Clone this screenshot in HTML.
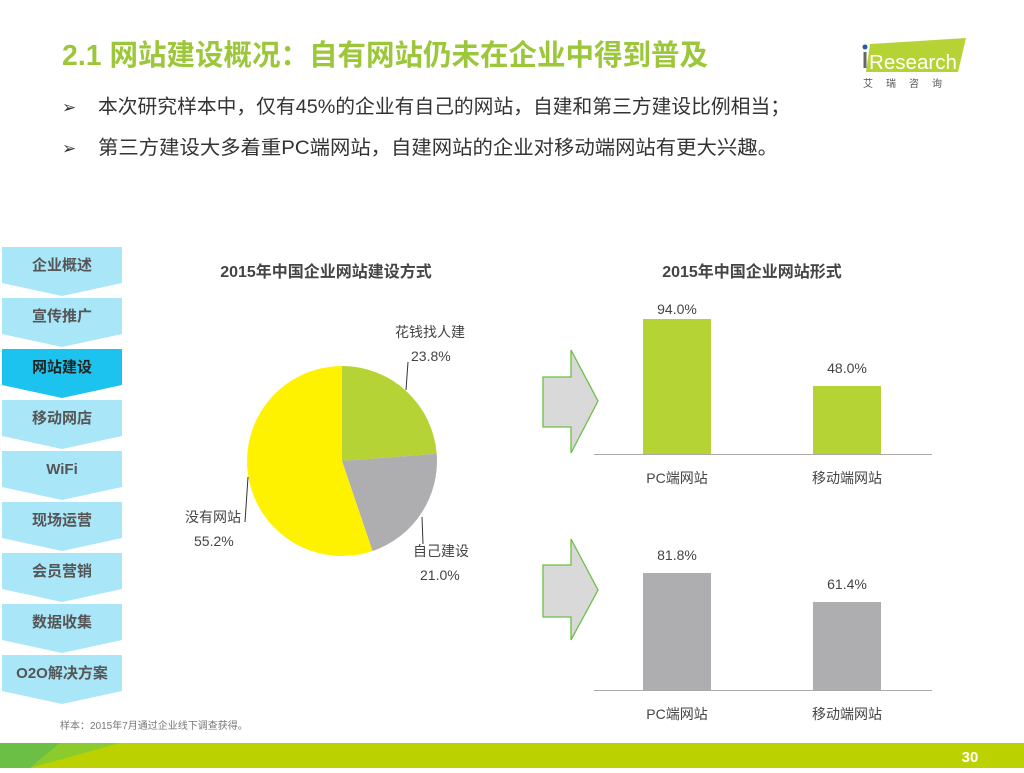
<!DOCTYPE html>
<html><head><meta charset="utf-8"><style>
body{margin:0;width:1024px;height:768px;overflow:hidden;background:#fff;font-family:"Liberation Sans","Noto Sans CJK SC",sans-serif;}
</style></head><body>
<svg width="1024" height="768" viewBox="0 0 1024 768" xmlns="http://www.w3.org/2000/svg" font-family="Liberation Sans, Noto Sans CJK SC, sans-serif">
<text x="62" y="65" font-size="29" font-weight="bold" fill="#9dc73a" textLength="646" lengthAdjust="spacingAndGlyphs">2.1 网站建设概况：自有网站仍未在企业中得到普及</text>
<text x="62" y="113" font-size="17" fill="#333">➢</text>
<text x="98" y="113" font-size="19.5" fill="#333" textLength="692" lengthAdjust="spacingAndGlyphs">本次研究样本中，仅有45%的企业有自己的网站，自建和第三方建设比例相当；</text>
<text x="62" y="154" font-size="17" fill="#333">➢</text>
<text x="98" y="154" font-size="19.5" fill="#333" textLength="680" lengthAdjust="spacingAndGlyphs">第三方建设大多着重PC端网站，自建网站的企业对移动端网站有更大兴趣。</text>
<!-- logo -->
<polygon points="870,44 966,38 958,72 866,72" fill="#b5d334"/>
<circle cx="865" cy="47" r="2.5" fill="#1f5fa8"/>
<rect x="863.5" y="52" width="3" height="16" fill="#666"/>
<text x="869" y="69" font-size="20" fill="#fff" textLength="88" lengthAdjust="spacingAndGlyphs">Research</text>
<text x="863" y="87" font-size="10" fill="#555" letter-spacing="13">艾瑞咨询</text>
<!-- side nav -->
<g font-size="15" font-weight="bold" fill="#555" text-anchor="middle">
<polygon points="2,247 122,247 122,283 62,296 2,283" fill="#a8e6f8"/><text x="62" y="270">企业概述</text>
<polygon points="2,298 122,298 122,334 62,347 2,334" fill="#a8e6f8"/><text x="62" y="321">宣传推广</text>
<polygon points="2,349 122,349 122,385 62,398 2,385" fill="#1bc3ee"/><text x="62" y="372" fill="#222">网站建设</text>
<polygon points="2,400 122,400 122,436 62,449 2,436" fill="#a8e6f8"/><text x="62" y="423">移动网店</text>
<polygon points="2,451 122,451 122,487 62,500 2,487" fill="#a8e6f8"/><text x="62" y="474">WiFi</text>
<polygon points="2,502 122,502 122,538 62,551 2,538" fill="#a8e6f8"/><text x="62" y="525">现场运营</text>
<polygon points="2,553 122,553 122,589 62,602 2,589" fill="#a8e6f8"/><text x="62" y="576">会员营销</text>
<polygon points="2,604 122,604 122,640 62,653 2,640" fill="#a8e6f8"/><text x="62" y="627">数据收集</text>
<polygon points="2,655 122,655 122,691 62,704 2,691" fill="#a8e6f8"/><text x="62" y="678">O2O解决方案</text>
</g>
<!-- pie -->
<text x="326" y="277" font-size="16" font-weight="bold" fill="#444" text-anchor="middle">2015年中国企业网站建设方式</text>
<path d="M342,461 L342,366 A95,95 0 0,1 436.7,453.8 Z" fill="#b5d334"/>
<path d="M342,461 L436.7,453.8 A95,95 0 0,1 372.5,551 Z" fill="#aeadb0"/>
<path d="M342,461 L372.5,551 A95,95 0 1,1 342,366 Z" fill="#fff200"/>
<polyline points="408,362 406,390" stroke="#333" fill="none"/>
<polyline points="248,477 245,522" stroke="#333" fill="none"/>
<polyline points="422,517 423,544" stroke="#333" fill="none"/>
<g font-size="14" fill="#444">
<text x="395" y="337">花钱找人建</text><text x="411" y="361">23.8%</text>
<text x="185" y="522">没有网站</text><text x="194" y="546">55.2%</text>
<text x="413" y="556">自己建设</text><text x="420" y="580">21.0%</text>
</g>
<!-- arrows -->
<polygon points="543,377 571,377 571,350 598,401 571,453 571,427 543,427" fill="#d9d9d9" stroke="#6cbf45" stroke-width="1.3"/>
<polygon points="543,565 571,565 571,539 598,590 571,640 571,617 543,617" fill="#d9d9d9" stroke="#6cbf45" stroke-width="1.3"/>
<!-- bar chart 1 -->
<text x="752" y="277" font-size="16" font-weight="bold" fill="#444" text-anchor="middle">2015年中国企业网站形式</text>
<rect x="643" y="319" width="68" height="135" fill="#b5d334"/>
<rect x="813" y="386" width="68" height="68" fill="#b5d334"/>
<line x1="594" y1="454.5" x2="932" y2="454.5" stroke="#aaa"/>
<g font-size="14" fill="#444" text-anchor="middle">
<text x="677" y="314">94.0%</text><text x="847" y="373">48.0%</text>
<text x="677" y="483">PC端网站</text><text x="847" y="483">移动端网站</text>
</g>
<!-- bar chart 2 -->
<rect x="643" y="573" width="68" height="117" fill="#aeadb0"/>
<rect x="813" y="602" width="68" height="88" fill="#aeadb0"/>
<line x1="594" y1="690.5" x2="932" y2="690.5" stroke="#aaa"/>
<g font-size="14" fill="#444" text-anchor="middle">
<text x="677" y="560">81.8%</text><text x="847" y="589">61.4%</text>
<text x="677" y="719">PC端网站</text><text x="847" y="719">移动端网站</text>
</g>
<text x="60" y="729" font-size="10" fill="#777">样本：2015年7月通过企业线下调查获得。</text>
<!-- footer -->
<rect x="0" y="743" width="1024" height="25" fill="#bcd100"/>
<polygon points="0,743 60,743 30,768 0,768" fill="#6cbf45"/>
<polygon points="30,768 60,743 120,743" fill="#8ccb2c"/>
<text x="970" y="762" font-size="15" font-weight="bold" fill="#fff" text-anchor="middle">30</text>
</svg>
</body></html>
